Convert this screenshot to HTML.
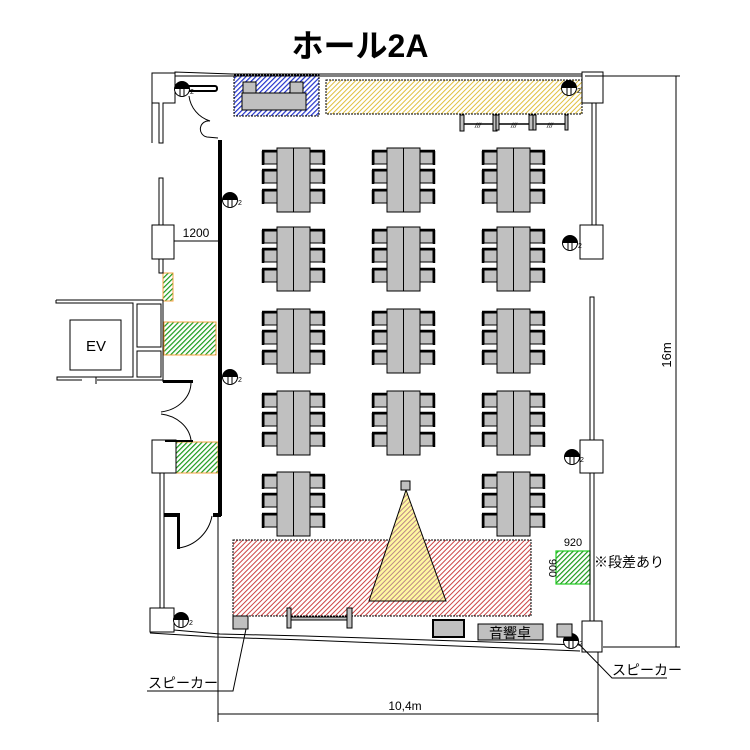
<!DOCTYPE html>
<html><head><meta charset="utf-8"><style>
html,body{margin:0;padding:0;background:#fff;}
svg{display:block;font-family:"Liberation Sans","Noto Sans CJK JP",sans-serif;}
</style></head><body>
<svg width="750" height="750" viewBox="0 0 750 750" xmlns="http://www.w3.org/2000/svg">
<defs>
<pattern id="red" width="3.5" height="3.5" patternUnits="userSpaceOnUse" patternTransform="rotate(45)"><rect width="3.5" height="3.5" fill="#fff"/><rect width="1" height="3.5" fill="#c44"/></pattern>
<pattern id="yel" width="3.5" height="3.5" patternUnits="userSpaceOnUse" patternTransform="rotate(45)"><rect width="3.5" height="3.5" fill="#fff"/><rect width="1" height="3.5" fill="#e0c040"/></pattern>
<pattern id="blu" width="3.5" height="3.5" patternUnits="userSpaceOnUse" patternTransform="rotate(45)"><rect width="3.5" height="3.5" fill="#fff"/><rect width="1.2" height="3.5" fill="#2233cc"/></pattern>
<pattern id="grn" width="3.5" height="3.5" patternUnits="userSpaceOnUse" patternTransform="rotate(45)"><rect width="3.5" height="3.5" fill="#fff"/><rect width="1.2" height="3.5" fill="#1a9a1a"/></pattern>
<pattern id="tri" width="3.5" height="3.5" patternUnits="userSpaceOnUse" patternTransform="rotate(45)"><rect width="3.5" height="3.5" fill="#fff8a0"/><rect width="1" height="3.5" fill="#b88"/></pattern>
<g id="tbl">
  <g fill="#c0c0c0" stroke="#000" stroke-width="1">
    <rect x="264" y="152" width="13" height="12"/><rect x="264" y="171" width="13" height="12"/><rect x="264" y="191" width="13" height="12"/>
    <rect x="310" y="152" width="13" height="12"/><rect x="310" y="171" width="13" height="12"/><rect x="310" y="191" width="13" height="12"/>
  </g>
  <g stroke="#000" stroke-width="2.5">
    <line x1="263" y1="151" x2="263" y2="165"/><line x1="263" y1="170" x2="263" y2="184"/><line x1="263" y1="190" x2="263" y2="204"/>
    <line x1="324" y1="151" x2="324" y2="165"/><line x1="324" y1="170" x2="324" y2="184"/><line x1="324" y1="190" x2="324" y2="204"/>
    <line x1="262" y1="151" x2="277" y2="151"/><line x1="262" y1="170" x2="277" y2="170"/><line x1="262" y1="190" x2="277" y2="190"/>
    <line x1="310" y1="151" x2="325" y2="151"/><line x1="310" y1="170" x2="325" y2="170"/><line x1="310" y1="190" x2="325" y2="190"/>
  </g>
  <rect x="277" y="148" width="33" height="64" fill="#c0c0c0" stroke="#000"/>
  <line x1="293.5" y1="148" x2="293.5" y2="212" stroke="#000"/>
</g>
<g id="pil">
  <circle cx="0" cy="0" r="7.5" fill="#fff" stroke="#000"/>
  <path d="M-7.5,0 A7.5,7.5 0 0 1 7.5,0 Z" fill="#000"/>
  <line x1="-2" y1="-2" x2="-2" y2="7" stroke="#000"/><line x1="2" y1="-2" x2="2" y2="7" stroke="#000"/>
  <text x="8" y="5" font-size="7">2</text>
</g>
</defs>

<text x="360" y="57" font-size="32" font-weight="bold" text-anchor="middle">ホール2A</text>

<rect x="234" y="75" width="85" height="41" fill="url(#blu)" stroke="#000" stroke-dasharray="2,1"/>
<rect x="242" y="93" width="64" height="17" fill="#c0c0c0" stroke="#000"/>
<rect x="243" y="82" width="13" height="11" fill="#c0c0c0" stroke="#000"/>
<rect x="290" y="82" width="13" height="11" fill="#c0c0c0" stroke="#000"/>
<rect x="326" y="80" width="256" height="34" fill="url(#yel)" stroke="#000" stroke-dasharray="2,1"/>
<rect x="233" y="540" width="298" height="76" fill="url(#red)" stroke="#000" stroke-dasharray="2,1"/>
<polygon points="406,490 369,601 446,601" fill="url(#tri)" stroke="#000"/>
<rect x="401" y="481" width="9" height="9" fill="#c0c0c0" stroke="#000"/>
<rect x="163" y="273" width="10" height="28" fill="url(#grn)" stroke="#f5a040"/>
<rect x="164" y="322" width="52" height="33" fill="url(#grn)" stroke="#f5a040"/>
<rect x="176" y="442" width="42" height="31" fill="url(#grn)" stroke="#f5a040"/>
<rect x="556" y="551" width="34" height="33" fill="url(#grn)" stroke="#2c2" stroke-width="1.2"/>

<g stroke="#000" fill="#c0c0c0">
<line x1="462" y1="124" x2="567" y2="124" stroke-width="1.5"/>
<rect x="460" y="115" width="4" height="16"/><rect x="493" y="115" width="4" height="16"/><rect x="496" y="115" width="3" height="15"/>
<rect x="529" y="115" width="4" height="15"/><rect x="533" y="115" width="3" height="15"/><rect x="565" y="115" width="3" height="15"/>
</g>
<g font-size="7" font-style="italic"><text x="475" y="128">///</text><text x="511" y="128">///</text><text x="547" y="128">///</text></g>

<use href="#tbl"/><use href="#tbl" x="110"/><use href="#tbl" x="220"/>
<use href="#tbl" y="79"/><use href="#tbl" x="110" y="79"/><use href="#tbl" x="220" y="79"/>
<use href="#tbl" y="161"/><use href="#tbl" x="110" y="161"/><use href="#tbl" x="220" y="161"/>
<use href="#tbl" y="243"/><use href="#tbl" x="110" y="243"/><use href="#tbl" x="220" y="243"/>
<use href="#tbl" y="324"/><use href="#tbl" x="220" y="324"/>

<g fill="none" stroke="#000" stroke-width="1">
<polyline points="175,75 175,72 232,74 582,74"/>
<line x1="175" y1="76" x2="582" y2="76"/>
<polyline points="152,143 152,73 175,73 175,103 163,103 163,143 159,143 159,103 152,103"/>
<rect x="159" y="178" width="4" height="47"/>
<rect x="152" y="225" width="22" height="34"/>
<rect x="159" y="259" width="4" height="14"/>
<line x1="174" y1="241" x2="218" y2="241"/>
<polyline points="56,300 56,303 133,303 133,377 57,377 57,380 82,380"/>
<line x1="56" y1="300" x2="163" y2="300"/>
<line x1="97" y1="380" x2="163" y2="380"/>
<line x1="163" y1="300" x2="163" y2="382"/>
<rect x="137" y="304" width="24" height="43"/>
<rect x="137" y="351" width="24" height="26"/>
<rect x="70" y="320" width="51" height="50"/>
<line x1="96" y1="377" x2="96" y2="384"/>
<path d="M191,382 A35,30 0 0 1 161,412"/>
<path d="M161,414 A35,30 0 0 1 191,440"/>
<rect x="152" y="440" width="24" height="33"/>
<line x1="160" y1="473" x2="160" y2="608"/><line x1="164" y1="473" x2="164" y2="608"/>
<rect x="150" y="608" width="24" height="24"/>
<path d="M179,548 A40,40 0 0 0 212,516"/>
<path d="M189,96 A30,30 0 0 0 210,121"/>
<path d="M210,121 A8,8 0 0 0 207,137 L218,138"/>
<line x1="218" y1="515" x2="218" y2="722"/>
<polyline points="174,630 185,631 220,634 305,636 580,645"/>
<polyline points="150,633 215,637 305,640 580,651"/>
<rect x="582" y="72" width="21" height="31"/>
<rect x="592" y="103" width="4" height="122"/>
<rect x="580" y="225" width="23" height="34"/>
<rect x="590" y="297" width="4" height="143"/>
<rect x="580" y="440" width="23" height="33"/>
<rect x="590" y="473" width="4" height="148"/>
<rect x="582" y="621" width="20" height="31"/>
<line x1="598" y1="652" x2="598" y2="722"/>
<line x1="585" y1="76" x2="680" y2="76"/>
<line x1="676" y1="76" x2="676" y2="647"/>
<line x1="603" y1="647" x2="680" y2="647"/>
<line x1="218" y1="714" x2="598" y2="714"/>
<polyline points="147,691 233,691 246,629"/>
<polyline points="667,678 612,678 572,637"/>
</g>
<rect x="218" y="140" width="4" height="376" fill="#000"/>
<rect x="178" y="86" width="39" height="5" rx="2" fill="#fff" stroke="#000" stroke-width="2"/>
<g fill="#000">
<rect x="163" y="380" width="30" height="3"/><rect x="165" y="440" width="28" height="2"/>
<rect x="164" y="513" width="16" height="4"/><rect x="177" y="513" width="3" height="36"/>
<rect x="213" y="513" width="8" height="4"/>
</g>

<use href="#pil" x="182" y="89"/><use href="#pil" x="569" y="88"/>
<use href="#pil" x="230" y="200"/><use href="#pil" x="570" y="243"/>
<use href="#pil" x="230" y="377"/><use href="#pil" x="572" y="457"/>
<use href="#pil" x="181" y="620"/><use href="#pil" x="571" y="641"/>

<g stroke="#000" fill="#c0c0c0">
<rect x="233" y="616" width="15" height="13"/>
<rect x="287" y="608" width="4" height="20"/><rect x="347" y="608" width="5" height="20"/>
<rect x="291" y="617" width="56" height="3"/>
<rect x="433" y="620" width="31" height="17" stroke-width="2"/>
<rect x="478" y="624" width="65" height="16"/>
<rect x="557" y="624" width="15" height="13"/>
</g>

<text x="510" y="638" font-size="14" text-anchor="middle">音響卓</text>
<text x="96" y="351" font-size="15" text-anchor="middle">EV</text>
<text x="196" y="237" font-size="12" text-anchor="middle">1200</text>
<text x="573" y="546" font-size="11" text-anchor="middle">920</text>
<text x="0" y="0" font-size="11" text-anchor="middle" transform="translate(549,568) rotate(90)">900</text>
<text x="594" y="567" font-size="14">※段差あり</text>
<text x="0" y="0" font-size="13" text-anchor="middle" transform="translate(671,355) rotate(-90)">16m</text>
<text x="405" y="710" font-size="12" text-anchor="middle">10,4m</text>
<text x="148" y="688" font-size="14">スピーカー</text>
<text x="612" y="675" font-size="14">スピーカー</text>
</svg>
</body></html>
